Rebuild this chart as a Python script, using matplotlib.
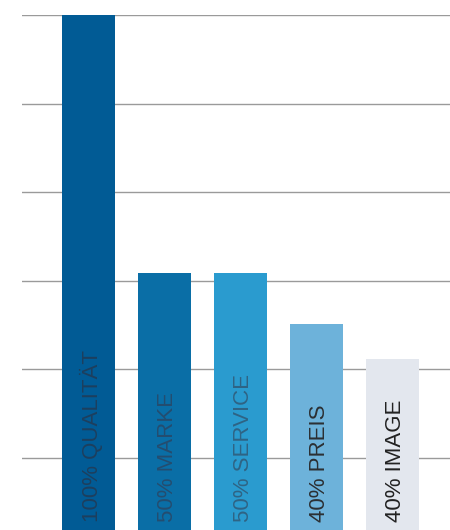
import matplotlib.pyplot as plt
from matplotlib.transforms import blended_transform_factory

labels = ["100% QUALITÄT", "50% MARKE", "50% SERVICE", "40% PREIS", "40% IMAGE"]
values = [100, 51.5, 51.5, 41.9, 35.3]
bar_colors = ["#015b95", "#0a6ea6", "#2a9bcf", "#6db2da", "#e3e7ee"]
text_colors = ["#1d3f5e", "#244d70", "#2f6485", "#2b2f33", "#222222"]
grid_levels = [100 / 6 * k for k in range(1, 7)]

fig = plt.figure(figsize=(4.5, 5.3), dpi=100)
ax = fig.add_axes([22 / 450, 0, 1 - 22 / 450, 515 / 530])

for g in grid_levels:
    ax.axhline(g, color="#9a9a9a", linewidth=1.0, zorder=1)

x = range(len(values))
ax.bar(x, values, width=0.7, color=bar_colors, zorder=2)

trans = blended_transform_factory(ax.transData, fig.transFigure)
for i, (lab, col) in enumerate(zip(labels, text_colors)):
    ax.text(i + 0.04, 8 / 530, lab, rotation=90, ha="center", va="bottom",
            fontsize=16, color=col, family="Liberation Sans", transform=trans,
            zorder=3)

ax.set_xlim(-0.87, 4.76)
ax.set_ylim(3.1, 100)
ax.axis("off")

fig.savefig("out.png", dpi=100)
